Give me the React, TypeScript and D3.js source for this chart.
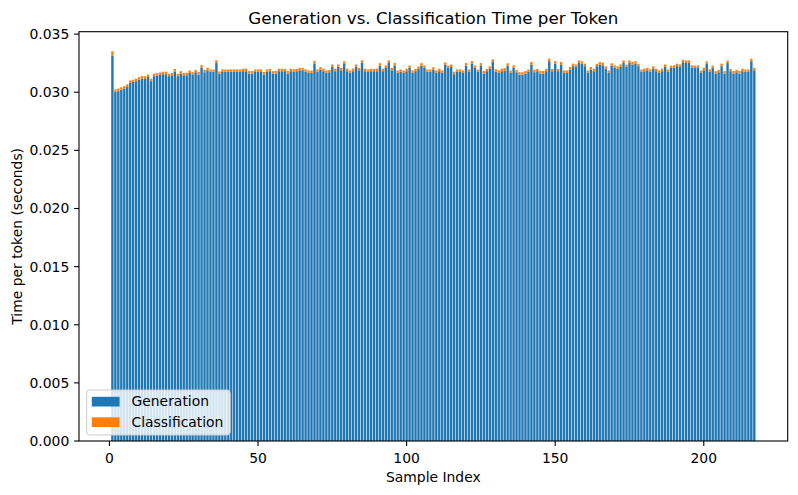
import React from "react";
import * as d3 from "d3";

const generation: number[] = [
  0.03316, 0.03003, 0.03009, 0.03023, 0.03032, 0.03046, 0.0308, 0.03089, 0.03095, 0.03109,
  0.03118, 0.03115, 0.03132, 0.03095, 0.03138, 0.03143, 0.03149, 0.03155, 0.03155, 0.03138,
  0.03146, 0.03178, 0.03138, 0.03161, 0.03146, 0.03146, 0.03166, 0.03152, 0.03172, 0.03152,
  0.03212, 0.03172, 0.03189, 0.03175, 0.03175, 0.03252, 0.03158, 0.03175, 0.03175, 0.03175,
  0.03175, 0.03175, 0.03175, 0.03175, 0.03181, 0.03181, 0.03161, 0.03161, 0.03175, 0.03175,
  0.03175, 0.03152, 0.03175, 0.03181, 0.03161, 0.03161, 0.03181, 0.03181, 0.03181, 0.03161,
  0.03181, 0.03175, 0.03181, 0.03189, 0.03189, 0.03175, 0.03166, 0.03166, 0.03246, 0.03175,
  0.03195, 0.03181, 0.03166, 0.03172, 0.03218, 0.03181, 0.03218, 0.03189, 0.03244, 0.03181,
  0.03166, 0.03181, 0.03218, 0.03189, 0.03252, 0.03181, 0.03175, 0.03181, 0.03181, 0.03181,
  0.03229, 0.03181, 0.03209, 0.03252, 0.03189, 0.03229, 0.03166, 0.03175, 0.03166, 0.03181,
  0.03209, 0.03166, 0.03181, 0.03201, 0.03229, 0.03209, 0.03175, 0.03175, 0.03195, 0.03166,
  0.03181, 0.03166, 0.03235, 0.03209, 0.03218, 0.03155, 0.03175, 0.03175, 0.03166, 0.03229,
  0.03175, 0.03246, 0.03209, 0.03175, 0.03229, 0.03161, 0.03181, 0.03201, 0.03261, 0.03175,
  0.03166, 0.03181, 0.03186, 0.03229, 0.03166, 0.03209, 0.03172, 0.03152, 0.03152, 0.03161,
  0.03175, 0.03238, 0.03172, 0.03181, 0.03161, 0.03161, 0.03181, 0.03267, 0.03181, 0.03246,
  0.03181, 0.03238, 0.03166, 0.03166, 0.03195, 0.03224, 0.03218, 0.03252, 0.03246, 0.03224,
  0.03166, 0.03195, 0.03181, 0.03224, 0.03238, 0.03232, 0.03201, 0.03166, 0.03229, 0.03209,
  0.03201, 0.03218, 0.03252, 0.03218, 0.03252, 0.03238, 0.03246, 0.03224, 0.03175, 0.03181,
  0.03189, 0.03175, 0.03201, 0.03181, 0.03166, 0.03181, 0.03218, 0.03175, 0.03209, 0.03209,
  0.03224, 0.03218, 0.03258, 0.03252, 0.03252, 0.03209, 0.03209, 0.03209, 0.03166, 0.03189,
  0.03244, 0.03175, 0.03209, 0.03161, 0.03172, 0.03224, 0.03161, 0.03252, 0.03181, 0.03161,
  0.03172, 0.03161, 0.03181, 0.03175, 0.03175, 0.03267, 0.03189,
];

const classification: number[] = [
  0.00037, 0.00021, 0.00022, 0.0002, 0.00021, 0.00022, 0.00021, 0.0002, 0.00022, 0.00021,
  0.00021, 0.00022, 0.0002, 0.00021, 0.00022, 0.00021, 0.0002, 0.00021, 0.00022, 0.00021,
  0.00021, 0.00022, 0.00021, 0.0002, 0.00021, 0.00022, 0.00021, 0.00021, 0.0002, 0.00022,
  0.00021, 0.00022, 0.00021, 0.0002, 0.00021, 0.00023, 0.00021, 0.00022, 0.0002, 0.00021,
  0.00021, 0.00022, 0.00021, 0.0002, 0.00021, 0.00022, 0.00021, 0.00021, 0.0002, 0.00022,
  0.00021, 0.00022, 0.00021, 0.0002, 0.00021, 0.00022, 0.00021, 0.00021, 0.0002, 0.00022,
  0.00021, 0.00022, 0.00021, 0.0002, 0.00021, 0.00022, 0.00021, 0.00021, 0.00023, 0.00022,
  0.00021, 0.00022, 0.00021, 0.0002, 0.00021, 0.00022, 0.00021, 0.00021, 0.00022, 0.00022,
  0.00021, 0.00022, 0.00021, 0.0002, 0.00022, 0.00022, 0.00021, 0.00021, 0.0002, 0.00022,
  0.00021, 0.00022, 0.00021, 0.00022, 0.00021, 0.00022, 0.00021, 0.00021, 0.0002, 0.00022,
  0.00021, 0.00022, 0.00021, 0.0002, 0.00021, 0.00022, 0.00021, 0.00021, 0.0002, 0.00022,
  0.00021, 0.00022, 0.00021, 0.0002, 0.00021, 0.00022, 0.00021, 0.00021, 0.0002, 0.00022,
  0.00021, 0.00022, 0.00021, 0.0002, 0.00021, 0.00022, 0.00021, 0.00021, 0.00022, 0.00022,
  0.00021, 0.00022, 0.00021, 0.0002, 0.00021, 0.00022, 0.00021, 0.00021, 0.0002, 0.00022,
  0.00021, 0.00022, 0.00021, 0.0002, 0.00021, 0.00022, 0.00021, 0.00022, 0.0002, 0.00022,
  0.00021, 0.00022, 0.00021, 0.0002, 0.00021, 0.00022, 0.00021, 0.00021, 0.0002, 0.00022,
  0.00021, 0.00022, 0.00021, 0.0002, 0.00021, 0.00022, 0.00021, 0.00021, 0.0002, 0.00022,
  0.00021, 0.00022, 0.00021, 0.0002, 0.00021, 0.00022, 0.00021, 0.00021, 0.0002, 0.00022,
  0.00021, 0.00022, 0.00021, 0.0002, 0.00021, 0.00022, 0.00021, 0.00021, 0.0002, 0.00022,
  0.00021, 0.00022, 0.00021, 0.0002, 0.00021, 0.00022, 0.00021, 0.00021, 0.0002, 0.00022,
  0.00021, 0.00022, 0.00021, 0.0002, 0.00021, 0.00022, 0.00021, 0.00021, 0.0002, 0.00022,
  0.00021, 0.00022, 0.00021, 0.0002, 0.00021, 0.00022, 0.00021,
];

const xTicks: number[] = [0, 50, 100, 150, 200];
const yTicks: number[] = [0, 0.005, 0.01, 0.015, 0.02, 0.025, 0.03, 0.035];
const seriesNames: string[] = ["Generation", "Classification"];

const W = 798;
const H = 495;
const M = { left: 79, right: 787.7, top: 31.7, bottom: 441 };
const BLUE = "#1f77b4";
const ORANGE = "#ff7f0e";
const FONT = "DejaVu Sans, sans-serif";

export default function App() {
  const n = generation.length;
  const indices = d3.range(1, n + 1);
  const totals = indices.map((i) => generation[i - 1] + classification[i - 1]);
  const xMinData = 1 - 0.4;
  const xMaxData = n + 0.4;
  const xPad = (xMaxData - xMinData) * 0.05;
  const x = d3.scaleLinear().domain([xMinData - xPad, xMaxData + xPad]).range([M.left, M.right]);
  const yMax = (d3.max(totals) as number) * 1.05;
  const y = d3.scaleLinear().domain([0, yMax]).range([M.bottom, M.top]);
  const fmt = d3.format(".3f");

  return (
    <svg width={W} height={H} style={{ position: "absolute", left: 0, top: 0 }} fontFamily={FONT}>
      <rect x={0} y={0} width={W} height={H} fill="white" />
      <g>
        {indices.map((i) => {
          const g = generation[i - 1];
          const c = classification[i - 1];
          const x0 = x(i - 0.4);
          const w = x(i + 0.4) - x0;
          return (
            <g key={i}>
              <rect x={x0} y={y(g)} width={w} height={y(0) - y(g)} fill={BLUE} />
              <rect x={x0} y={y(g + c)} width={w} height={y(g) - y(g + c)} fill={ORANGE} />
            </g>
          );
        })}
      </g>
      {/* spines */}
      <rect x={M.left} y={M.top} width={M.right - M.left} height={M.bottom - M.top} fill="none" stroke="black" strokeWidth={1.1} />
      {/* x ticks */}
      {xTicks.map((t) => (
        <g key={"x" + t}>
          <line x1={x(t)} x2={x(t)} y1={M.bottom} y2={M.bottom + 4.9} stroke="black" strokeWidth={1.1} />
          <text x={x(t)} y={M.bottom + 22} textAnchor="middle" fontSize={13.9} fill="black">
            {t}
          </text>
        </g>
      ))}
      {/* y ticks */}
      {yTicks.map((t) => (
        <g key={"y" + t}>
          <line x1={M.left - 4.9} x2={M.left} y1={y(t)} y2={y(t)} stroke="black" strokeWidth={1.1} />
          <text x={M.left - 9.7} y={y(t)} dy="0.36em" textAnchor="end" fontSize={13.9} fill="black">
            {fmt(t)}
          </text>
        </g>
      ))}
      <text x={(M.left + M.right) / 2} y={24} textAnchor="middle" fontSize={16.7} fill="black">
        Generation vs. Classification Time per Token
      </text>
      <text x={(M.left + M.right) / 2} y={482} textAnchor="middle" fontSize={13.9} fill="black">
        Sample Index
      </text>
      <text
        transform={`translate(22, ${(M.top + M.bottom) / 2}) rotate(-90)`}
        textAnchor="middle"
        fontSize={13.9}
        fill="black"
      >
        Time per token (seconds)
      </text>
      {/* legend */}
      <g>
        <rect x={86.7} y={390} width={143.5} height={45} rx={3} ry={3} fill="white" fillOpacity={0.8} stroke="#cccccc" strokeWidth={1} />
        {seriesNames.map((name, k) => (
          <g key={name}>
            <rect x={91.8} y={396.8 + k * 20.5} width={27.8} height={9.7} fill={k === 0 ? BLUE : ORANGE} />
            <text x={131.5} y={406.3 + k * 20.5} fontSize={13.9} fill="black">
              {name}
            </text>
          </g>
        ))}
      </g>
    </svg>
  );
}
